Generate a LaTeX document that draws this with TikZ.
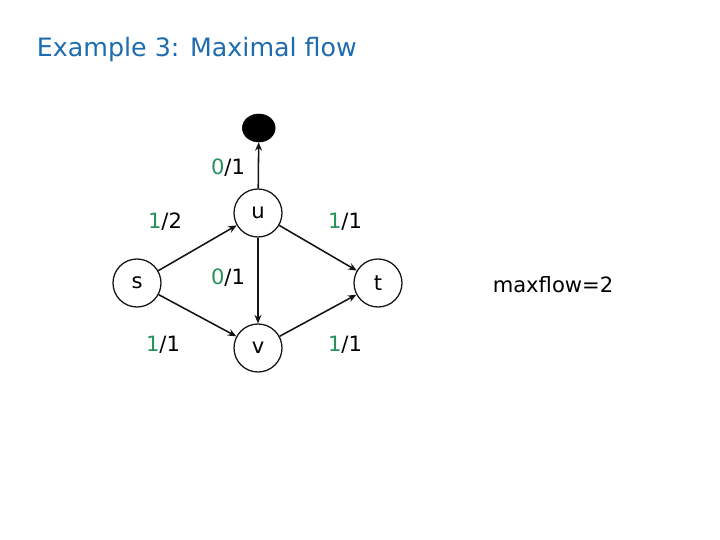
\documentclass[tikz,border=0pt]{standalone}
\usepackage{fontspec}
\setmainfont{DejaVu Sans}
\usepackage{xcolor}
\usepackage{tikz}
\usetikzlibrary{shapes.geometric, arrows.meta, positioning}
\definecolor{ttlblue}{RGB}{30,108,176}
\definecolor{flowgreen}{RGB}{40,145,90}
\definecolor{edgedark}{RGB}{20,20,20}
\tikzset{
  vtx/.style={circle, draw=edgedark, fill=white, minimum size=1.2cm, inner sep=0pt,
    font=\fontsize{15}{17}\selectfont, line width=0.9pt},
  sink/.style={ellipse, draw=black, fill=black, minimum width=0.82cm, minimum height=0.7cm, inner sep=0pt},
  arrow/.style={-{Stealth[length=6pt,width=5pt]}, line width=1.1pt, color=edgedark},
  caplbl/.style={font=\fontsize{15}{17}\selectfont}
}
\newcommand{\fl}[2]{{\color{flowgreen}#1}/#2}

\begin{document}
\begin{tikzpicture}
\useasboundingbox (0,0) rectangle (18,13.5);
\node[font=\fontsize{18}{21}\selectfont\color{ttlblue}, anchor=west] (title) at (0.8, 12.25) {Example 3: Maximal flow};

\node[sink] (blk) at (6.47, 10.30) {};
\node[vtx]  (u)   at (6.45, 8.175) {u};
\node[vtx]  (s)   at (3.425, 6.425) {s};
\node[vtx]  (t)   at (9.45, 6.425) {t};
\node[vtx]  (v)   at (6.45, 4.8)   {v};

\draw[arrow] (u) -- (blk);
\draw[arrow] (s) -- (u);
\draw[arrow] (s) -- (v);
\draw[arrow] (u) -- (v);
\draw[arrow] (u) -- (t);
\draw[arrow] (v) -- (t);

% capacity labels
\node[caplbl] (lub) at (5.7, 9.3)    {\fl{0}{1}};
\node[caplbl] (lsu) at (4.125, 7.95) {\fl{1}{2}};
\node[caplbl] (lut) at (8.625, 7.95) {\fl{1}{1}};
\node[caplbl] (luv) at (5.7, 6.55)   {\fl{0}{1}};
\node[caplbl] (lsv) at (4.075, 4.875){\fl{1}{1}};
\node[caplbl] (lvt) at (8.625, 4.875){\fl{1}{1}};

\node[caplbl] (mf) at (13.825, 6.375) {maxflow=2};
\end{tikzpicture}
\end{document}
